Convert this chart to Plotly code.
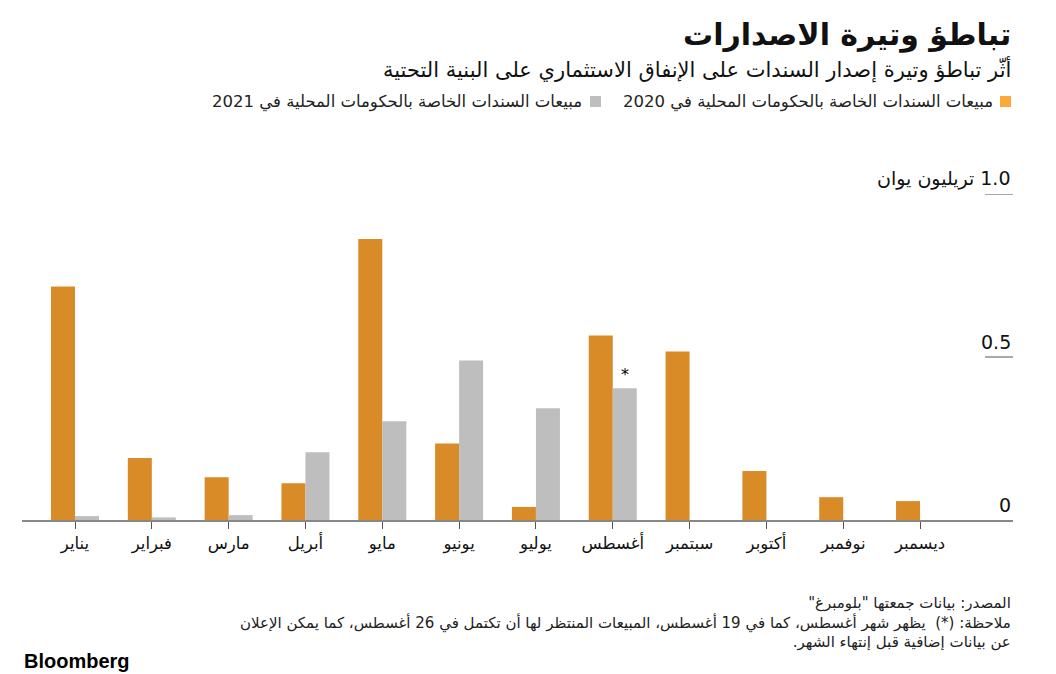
import plotly.graph_objects as go

months = ["يناير", "فبراير", "مارس", "أبريل", "مايو", "يونيو",
          "يوليو", "أغسطس", "سبتمبر", "أكتوبر", "نوفمبر", "ديسمبر"]
sales_2020 = [0.716, 0.19, 0.131, 0.113, 0.862, 0.235, 0.04, 0.566, 0.517, 0.15, 0.07, 0.058]
sales_2021 = [0.012, 0.008, 0.015, 0.208, 0.303, 0.489, 0.343, 0.404, None, None, None, None]
y_ticks = [0, 0.5, 1.0]
y_tick_labels = ["0", "0.5", "1.0"]

ORANGE = "#D98B27"
GRAY = "#BEBEBE"
FONT = "DejaVu Sans"
RLM = "\u200f"


def rtl(s):
    return "<br>".join(RLM + line + RLM for line in s.split("<br>"))


fig = go.Figure()
fig.add_bar(x=months, y=sales_2020, marker_color=ORANGE, marker_line_width=0,
            name="2020", showlegend=False)
fig.add_bar(x=months, y=sales_2021, marker_color=GRAY, marker_line_width=0,
            name="2021", showlegend=False)

W, H = 1056, 674
L, R, T, B = 22, 43, 194, 154
plot_h = H - T - B
plot_w = W - L - R


def py(pix):
    return (H - B - pix) / plot_h


def px(pix):
    return (pix - L) / plot_w


ann = []
# title / subtitle
ann.append(dict(text=rtl("<b>تباطؤ وتيرة الاصدارات</b>"), x=1.0, y=py(35), xref="paper", yref="paper",
                xanchor="right", yanchor="middle", showarrow=False,
                font=dict(family=FONT, size=30, color="#111")))
ann.append(dict(text=rtl("أثّر تباطؤ وتيرة إصدار السندات على الإنفاق الاستثماري على البنية التحتية"),
                x=1.0, y=py(70), xref="paper", yref="paper", xanchor="right", yanchor="middle",
                showarrow=False, font=dict(family=FONT, size=21, color="#111")))
# legend
ann.append(dict(text=rtl("مبيعات السندات الخاصة بالحكومات المحلية في 2020"), x=px(995), y=py(102),
                xref="paper", yref="paper", showarrow=False,
                xanchor="right", yanchor="middle", font=dict(family=FONT, size=16.5, color="#222")))
ann.append(dict(text=rtl("مبيعات السندات الخاصة بالحكومات المحلية في 2021"), x=px(584), y=py(102),
                xref="paper", yref="paper", showarrow=False,
                xanchor="right", yanchor="middle", font=dict(family=FONT, size=16.5, color="#222")))

# y-axis labels
for v, lab in zip(y_ticks, y_tick_labels):
    text = rtl(lab + " تريليون يوان") if v == 1.0 else lab
    ann.append(dict(text=text, x=1.0, y=v, xref="paper", yref="y", xanchor="right",
                    yanchor="bottom", yshift=2, showarrow=False,
                    font=dict(family=FONT, size=19, color="#111")))

# asterisk on August 2021
ann.append(dict(text="*", x="أغسطس", y=sales_2021[7], xref="x", yref="y", xshift=12, yshift=2,
                xanchor="center", yanchor="bottom", showarrow=False,
                font=dict(family=FONT, size=16, color="#000")))

# footer
ann.append(dict(text=rtl('المصدر: بيانات جمعتها "بلومبرغ"') + "<br>" +
                rtl("ملاحظة: (*)  يظهر شهر أغسطس، كما في 19 أغسطس، المبيعات المنتظر لها أن تكتمل في 26 أغسطس، كما يمكن الإعلان") + "<br>" +
                rtl("عن بيانات إضافية قبل إنتهاء الشهر."),
                x=1.0, y=py(592), xref="paper", yref="paper", xanchor="right", yanchor="top",
                align="right", showarrow=False,
                font=dict(family=FONT, size=15, color="#222")))
ann.append(dict(text="<b>Bloomberg</b>", x=0, y=py(661), xref="paper", yref="paper",
                xanchor="left", yanchor="middle", showarrow=False,
                font=dict(family="Liberation Sans", size=20, color="#000")))

shapes = []
for v in y_ticks[1:]:
    shapes.append(dict(type="line", xref="paper", yref="y", x0=px(985), x1=1.0,
                       y0=v, y1=v, line=dict(color="#555", width=1)))
# legend squares
for xp, col in [(1000, "#FBAA3A"), (590, GRAY)]:
    shapes.append(dict(type="rect", xref="paper", yref="paper",
                       x0=px(xp), x1=px(xp + 11),
                       y0=py(107), y1=py(96), line_width=0, fillcolor=col))

fig.update_layout(
    width=W, height=H,
    margin=dict(l=L, r=R, t=T, b=B),
    paper_bgcolor="white", plot_bgcolor="white",
    barmode="group", bargap=0.375, bargroupgap=0,
    annotations=ann, shapes=shapes,
    font=dict(family=FONT),
    xaxis=dict(type="category", range=[-0.69, 12.21], showgrid=False, zeroline=False,
               showline=True, linecolor="#888", linewidth=1.5,
               ticks="outside", ticklen=7, tickcolor="#555", tickwidth=1,
               tickfont=dict(family=FONT, size=16.5, color="#111"), fixedrange=True),
    yaxis=dict(range=[0, 1.0], showgrid=False, zeroline=False, showticklabels=False,
               showline=False, fixedrange=True),
)

fig.write_html("out.html")
